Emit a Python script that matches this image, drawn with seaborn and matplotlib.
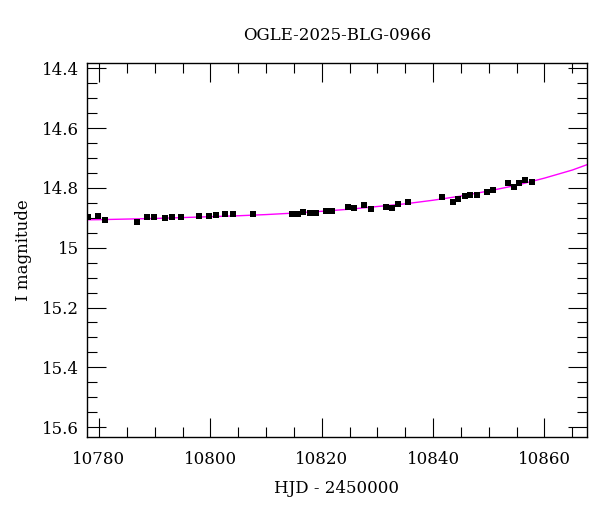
import numpy as np
import pandas as pd
import matplotlib
matplotlib.use('Agg')
import matplotlib.pyplot as plt
import seaborn as sns
from matplotlib.ticker import MultipleLocator

# photometry (HJD - 2450000, I mag)
hjd = [10778.1, 10779.9, 10781.1, 10786.9, 10788.7, 10789.9, 10791.8, 10793.1,
       10794.8, 10798.0, 10799.8, 10801.0, 10802.7, 10804.0, 10807.6,
       10814.6, 10815.7, 10816.7, 10817.9, 10819.0, 10820.8, 10821.8,
       10824.8, 10825.8, 10827.6, 10828.8, 10831.5, 10832.6, 10833.7, 10835.5,
       10841.6, 10843.5, 10844.5, 10845.7, 10846.7, 10847.8, 10849.6, 10850.7,
       10853.5, 10854.6, 10855.5, 10856.5, 10857.7]
imag = [14.898, 14.895, 14.907, 14.913, 14.896, 14.896, 14.902, 14.897,
        14.897, 14.895, 14.895, 14.890, 14.888, 14.886, 14.887,
        14.887, 14.887, 14.880, 14.883, 14.883, 14.878, 14.877,
        14.863, 14.867, 14.857, 14.870, 14.863, 14.868, 14.853, 14.847,
        14.831, 14.846, 14.836, 14.826, 14.825, 14.823, 14.815, 14.808,
        14.782, 14.797, 14.783, 14.773, 14.779]

# model curve
model_hjd = [10775, 10780, 10785, 10790, 10795, 10800, 10805, 10810, 10815, 10820,
             10825, 10830, 10835, 10840, 10845, 10850, 10855, 10860, 10865, 10870]
model_mag = [14.907, 14.906, 14.904, 14.902, 14.899, 14.896, 14.893, 14.889, 14.884, 14.878,
             14.871, 14.862, 14.853, 14.841, 14.827, 14.810, 14.791, 14.767, 14.740, 14.706]

data = pd.DataFrame({'hjd': hjd, 'mag': imag})
model = pd.DataFrame({'hjd': model_hjd, 'mag': model_mag})

sns.set_style('ticks')
plt.rcParams['font.family'] = ['DejaVu Serif']
plt.rcParams['text.color'] = 'black'
plt.rcParams['axes.labelcolor'] = 'black'
plt.rcParams['xtick.color'] = 'black'
plt.rcParams['ytick.color'] = 'black'

fig = plt.figure(figsize=(6, 5.12), dpi=100)
ax = fig.add_axes([0.145, 0.1465, 0.833, 0.731])

sns.lineplot(data=model, x='hjd', y='mag', color='#ff00ff', linewidth=1.0, ax=ax)
sns.scatterplot(data=data, x='hjd', y='mag', marker='s', s=18, color='black',
                edgecolor='black', linewidth=0, ax=ax, zorder=3)

ax.set_xlim(10777.85, 10867.6)
ax.set_ylim(15.633, 14.381)
ax.xaxis.set_major_locator(MultipleLocator(20))
ax.xaxis.set_minor_locator(MultipleLocator(5))
ax.yaxis.set_minor_locator(MultipleLocator(0.05))
ax.set_yticks([14.4, 14.6, 14.8, 15.0, 15.2, 15.4, 15.6])
ax.set_yticklabels(['14.4', '14.6', '14.8', '15', '15.2', '15.4', '15.6'])

ax.tick_params(which='both', direction='in', top=True, right=True, labelsize=12, width=0.8)
ax.tick_params(which='major', length=14)
ax.tick_params(which='minor', length=7)
ax.tick_params(axis='x', which='major', pad=10)
ax.tick_params(axis='y', which='major', pad=6)
for sp in ax.spines.values():
    sp.set_linewidth(1.0)
    sp.set_color('black')

ax.set_xlabel('HJD - 2450000', fontsize=12, labelpad=9)
ax.set_ylabel('I magnitude', fontsize=12, labelpad=7)
ax.set_title('OGLE-2025-BLG-0966', fontsize=12, pad=16)

fig.savefig('out.png', dpi=100)
